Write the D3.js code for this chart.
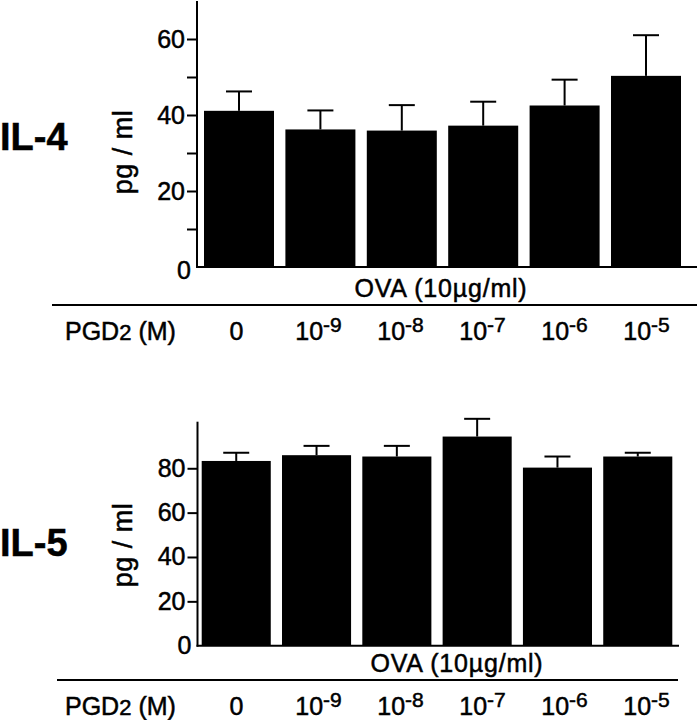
<!DOCTYPE html>
<html>
<head>
<meta charset="utf-8">
<script src="https://cdn.jsdelivr.net/npm/d3@7"></script>
<style>
  html, body { margin: 0; padding: 0; background: #fff; }
  svg { display: block; }
  text { font-family: "Liberation Sans", Arial, Helvetica, sans-serif; fill: #000; stroke: #000; stroke-width: 0.5px; }
</style>
</head>
<body>
<svg id="chart" width="697" height="720"></svg>
<script>
// ---- data ----
const categories = ["0", "1e-9", "1e-8", "1e-7", "1e-6", "1e-5"];
const exponents = [null, "-9", "-8", "-7", "-6", "-5"];
const il4Values = [41.1, 36.2, 35.9, 37.2, 42.5, 50.3];
const il4Sem    = [5.1, 5.0, 6.7, 6.3, 6.8, 10.7];
const il5Values = [83.3, 85.9, 85.3, 94.3, 80.3, 85.3];
const il5Sem    = [3.7, 4.2, 4.8, 8.0, 5.0, 1.7];
const il4Ticks = [0, 10, 20, 30, 40, 50, 60];
const il4Labeled = [0, 20, 40, 60];
const il5Ticks = [0, 20, 40, 60, 80];
const il5Labeled = [0, 20, 40, 60, 80];
const panelTitles = ["IL-4", "IL-5"];
const yTitle = "pg / ml";
const ovaLabel = "OVA (10\u00B5g/ml)";
const rowLabel = "PGD2 (M)";

const svg = d3.select("#chart");

const panels = [
  { title: panelTitles[0], values: il4Values, sem: il4Sem, ticks: il4Ticks, labeled: il4Labeled,
    domain: [0, 70], yr: [267, 1], axisX: 197, baseEnd: 697, bars: [204, 681],
    titleY: 150, yTitleY: 152, ovaX: 441, ovaY: 297, sepY: 305, sepX: [52, 697], labY: 340 },
  { title: panelTitles[1], values: il5Values, sem: il5Sem, ticks: il5Ticks, labeled: il5Labeled,
    domain: [0, 101], yr: [645.7, 421.7], axisX: 197.5, baseEnd: 679, bars: [201.7, 672.3],
    titleY: 556, yTitleY: 545, ovaX: 457, ovaY: 672, sepY: 680, sepX: [57, 678], labY: 715 }
];

const labelX = d3.scalePoint().domain(categories).range([236.5, 646.5]);

panels.forEach(p => {
  const g = svg.append("g");
  const y = d3.scaleLinear().domain(p.domain).range(p.yr);
  const x = d3.scaleBand().domain(categories).range(p.bars).paddingInner(0.14).paddingOuter(0);

  // bars
  g.selectAll("rect.bar").data(p.values).join("rect")
    .attr("class", "bar")
    .attr("x", (d, i) => x(categories[i]))
    .attr("width", x.bandwidth())
    .attr("y", d => y(d))
    .attr("height", d => y(0) - y(d))
    .attr("fill", "#000");

  // error bars (upper only)
  const capW = 26;
  p.values.forEach((v, i) => {
    const cx = x(categories[i]) + x.bandwidth() / 2;
    g.append("line").attr("x1", cx).attr("x2", cx)
      .attr("y1", y(v)).attr("y2", y(v + p.sem[i]))
      .attr("stroke", "#000").attr("stroke-width", 2);
    g.append("line").attr("x1", cx - capW / 2).attr("x2", cx + capW / 2)
      .attr("y1", y(v + p.sem[i])).attr("y2", y(v + p.sem[i]))
      .attr("stroke", "#000").attr("stroke-width", 2);
  });

  // y axis
  const ax = g.append("g").attr("transform", `translate(${p.axisX},0)`)
    .call(d3.axisLeft(y).tickValues(p.ticks).tickSize(10).tickSizeOuter(0).tickPadding(2)
      .tickFormat(d => p.labeled.includes(d) ? d : ""));
  ax.select(".domain").remove();
  ax.selectAll(".tick line").attr("stroke", "#000").attr("stroke-width", 2)
    .filter(d => d === 0).remove();
  ax.selectAll(".tick text").attr("font-size", 25).attr("font-family", "Liberation Sans, Arial, sans-serif")
    .attr("fill", "#000");
  ax.selectAll(".tick text").filter(d => d === 0).attr("x", -6).attr("dy", p === panels[0] ? "0.44em" : "0.32em");
  // axis line
  g.append("line").attr("x1", p.axisX).attr("x2", p.axisX)
    .attr("y1", p.yr[1]).attr("y2", p.yr[0] + 1)
    .attr("stroke", "#000").attr("stroke-width", 2);
  // baseline
  g.append("line").attr("x1", p.axisX - 1).attr("x2", p.baseEnd)
    .attr("y1", p.yr[0]).attr("y2", p.yr[0])
    .attr("stroke", "#000").attr("stroke-width", 2);

  // y title
  g.append("text")
    .attr("transform", `translate(132,${p.yTitleY}) rotate(-90)`)
    .attr("text-anchor", "middle")
    .attr("font-size", 27)
    .attr("letter-spacing", 0.5)
    .text(yTitle);

  // panel title
  g.append("text").attr("x", 0).attr("y", p.titleY)
    .attr("font-size", 38).attr("font-weight", "bold")
    .text(p.title);

  // OVA label
  g.append("text").attr("x", p.ovaX).attr("y", p.ovaY)
    .attr("text-anchor", "middle").attr("font-size", 25)
    .attr("letter-spacing", 0.8)
    .text(ovaLabel);

  // separator
  g.append("line").attr("x1", p.sepX[0]).attr("x2", p.sepX[1])
    .attr("y1", p.sepY).attr("y2", p.sepY)
    .attr("stroke", "#000").attr("stroke-width", 2);

  // row label
  const rl = g.append("text").attr("x", 65).attr("y", p.labY).attr("font-size", 25);
  rl.append("tspan").text("PGD");
  rl.append("tspan").attr("font-size", 22).text("2");
  rl.append("tspan").text(" (M)");

  // category labels
  categories.forEach((c, i) => {
    const t = g.append("text").attr("x", labelX(c)).attr("y", p.labY)
      .attr("text-anchor", "middle").attr("font-size", 25);
    if (exponents[i] === null) {
      t.text("0");
    } else {
      t.append("tspan").text("10");
      t.append("tspan").attr("font-size", 21).attr("dy", -8).text(exponents[i]);
    }
  });
});
</script>
</body>
</html>
